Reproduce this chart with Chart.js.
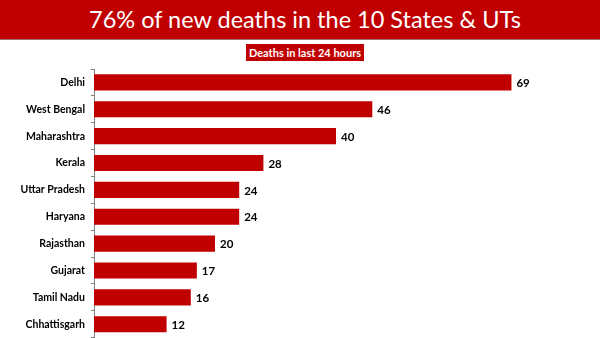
<!DOCTYPE html>
<html>
<head>
<meta charset="utf-8">
<script src="https://cdn.jsdelivr.net/npm/chart.js@4/dist/chart.umd.min.js"></script>
<style>
  html, body { margin: 0; padding: 0; background: #fff; }
  #wrap { position: relative; width: 600px; height: 338px; overflow: hidden; }
  #header {
    position: absolute; left: 0; top: 0; width: 590px; height: 39px;
    padding-left: 10px;
    background: #c00000; border-bottom: 1px solid #9a7070;
    color: #fff; font-family: Lato, sans-serif; font-size: 23.5px;
    line-height: 38px; text-align: center;
  }
  #sub {
    position: absolute; left: 246px; top: 44px; width: 118px; height: 17px;
    background: #c00000; color: #fff; font-family: Lato, sans-serif;
    font-weight: bold; font-size: 11px; line-height: 17px; text-align: center;
  }
  #chart { position: absolute; left: 0; top: 0; }
</style>
</head>
<body>
<div id="wrap">
  <canvas id="chart" width="600" height="350"></canvas>
  <div id="header">76% of new deaths in the 10 States &amp; UTs</div>
  <div id="sub">Deaths in last 24 hours</div>
</div>
<script>
const states = ["Delhi", "West Bengal", "Maharashtra", "Kerala", "Uttar Pradesh",
                "Haryana", "Rajasthan", "Gujarat", "Tamil Nadu", "Chhattisgarh"];
const deaths = [69, 46, 40, 28, 24, 24, 20, 17, 16, 12];

// values written just past the end of each bar
const barValues = {
    id: "barValues",
    afterDatasetsDraw(chart) {
        const { ctx } = chart;
        const meta = chart.getDatasetMeta(0);
        ctx.save();
        ctx.font = "bold 11.5px Lato, sans-serif";
        ctx.fillStyle = "#000";
        ctx.textAlign = "left";
        ctx.textBaseline = "middle";
        meta.data.forEach((bar, i) => {
            ctx.fillText(deaths[i], bar.x + 5, bar.y + 1);
        });
        ctx.restore();
    },
};

new Chart(document.getElementById("chart"), {
    type: "bar",
    data: {
        labels: states,
        datasets: [
            {
                data: deaths,
                backgroundColor: "#c00000",
                borderWidth: 0,
                barPercentage: 0.6,
                categoryPercentage: 1,
            },
        ],
    },
    options: {
        indexAxis: "y",
        responsive: false,
        animation: false,
        layout: { padding: { top: 69, bottom: 0, left: 0, right: 22 } },
        plugins: {
            legend: { display: false },
            tooltip: { enabled: false },
        },
        scales: {
            x: { display: false, min: 0, max: 80 },
            y: {
                afterFit(scale) {
                    scale.width = 94;
                },
                border: { display: true, color: "#7f7f7f", width: 1 },
                grid: {
                    drawOnChartArea: false,
                    drawTicks: true,
                    tickLength: 3,
                    color: "#7f7f7f",
                    offset: true,
                },
                ticks: {
                    color: "#000",
                    padding: 6,
                    font: { family: "Lato, sans-serif", weight: "bold", size: 10.5 },
                },
            },
        },
    },
    plugins: [barValues],
});
</script>
</body>
</html>
